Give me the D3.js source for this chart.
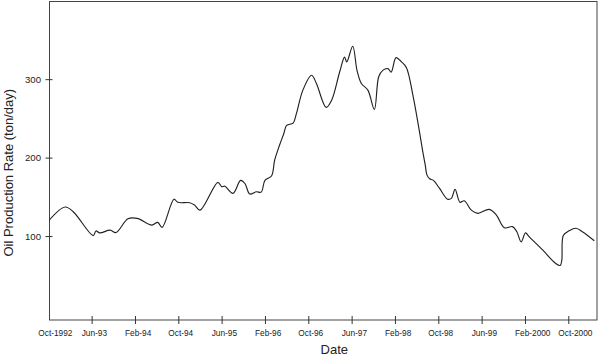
<!DOCTYPE html>
<html>
<head>
<meta charset="utf-8">
<script src="https://cdn.jsdelivr.net/npm/d3@7"></script>
<style>
  html, body { margin: 0; padding: 0; background: #fff; }
  svg { display: block; }
  text { font-family: Arial, "Liberation Sans", sans-serif; fill: #222; }
</style>
</head>
<body>
<svg id="chart" width="600" height="355"></svg>
<script>
// Months since Oct-1992 (fractional)
const months = [0, 3.1, 4.6, 8.3, 8.8, 9.5, 11.4, 12.5, 14.7, 16.4, 19.1, 20.2, 21.0,
  23.2, 23.9, 26.1, 27.0, 28.0, 31.3, 32.0, 32.6, 34.1, 35.5, 36.3, 37.2, 38.4, 39.3,
  40.0, 41.2, 41.8, 42.7, 43.5, 44.0, 45.2, 45.8, 47.0, 48.6, 49.5, 51.3, 52.3, 53.8,
  54.7, 55.1, 56.2, 57.0, 57.8, 59.0, 60.2, 61.0, 61.8, 62.7, 63.3, 64.2, 65.2, 66.1,
  67.3, 68.5, 69.1, 69.6, 69.9, 70.4, 71.1, 72.2, 73.7, 74.4, 75.1, 76.0, 76.8, 78.1,
  79.3, 81.4, 82.7, 84.2, 85.7, 86.5, 87.3, 88.1, 88.8, 91.3, 93.7, 94.5, 94.8, 95.1,
  96.2, 97.4, 98.6, 100.8];
// Oil production rate (ton/day)
const rate = [119, 137, 131, 100.5, 106.5, 104, 107.5, 104.5, 122, 122.5, 114, 117.5, 111,
  147, 143, 142.5, 139.5, 133, 168.5, 163, 163.5, 154.5, 171, 167, 153.5, 156.5, 156,
  171, 176.5, 197, 216, 231, 241, 244, 256, 286, 305, 294.5, 264, 273, 309.5,
  328, 322, 342, 311, 294.5, 286, 261.5, 303, 311.5, 313.5, 309, 327.5, 322, 315,
  280, 234, 209, 190, 178, 173, 171, 161, 147, 148, 159.5, 143, 145, 133,
  129, 134, 127, 110.5, 112, 105.5, 92.5, 104, 99, 82, 65, 62.5, 69, 101,
  107, 110, 105.5, 94];

const tickMonths = [0, 8, 16, 24, 32, 40, 48, 56, 64, 72, 80, 88, 96];
const tickLabels = ["Oct-1992", "Jun-93", "Feb-94", "Oct-94", "Jun-95", "Feb-96", "Oct-96",
  "Jun-97", "Feb-98", "Oct-98", "Jun-99", "Feb-2000", "Oct-2000"];
const yTicks = [100, 200, 300];

const svg = d3.select("#chart");
const L = 49.5, T = 1.5, R = 597, B = 320;

const x = d3.scaleLinear().domain([0.22, 101.3]).range([L, R]);
const y = d3.scaleLinear().domain([-7, 399]).range([B, T]);

svg.append("clipPath").attr("id", "clip")
  .append("rect").attr("x", L).attr("y", T).attr("width", R - L).attr("height", B - T);

// frame
svg.append("rect")
  .attr("x", L).attr("y", T).attr("width", R - L).attr("height", B - T)
  .attr("fill", "none").attr("stroke", "#444").attr("stroke-width", 1);

// x axis
const xAxis = d3.axisBottom(x)
  .tickValues(tickMonths)
  .tickSize(4)
  .tickSizeOuter(0)
  .tickFormat((d, i) => tickLabels[i]);
const gx = svg.append("g").attr("transform", `translate(0,${B})`).call(xAxis);
gx.select(".domain").remove();
gx.selectAll(".tick line").attr("y1", -4).attr("y2", 4).attr("stroke", "#333");
gx.selectAll(".tick").filter(d => d === 0).select("line").remove();
gx.selectAll(".tick text")
  .attr("text-anchor", "start")
  .attr("dx", -10.5)
  .attr("y", 0).attr("dy", 16)
  .style("font-size", "8.3px")
  .style("font-family", "Arial, 'Liberation Sans', sans-serif")
  .attr("fill", "#222");

// y axis
const yAxis = d3.axisLeft(y)
  .tickValues(yTicks)
  .tickSize(4)
  .tickSizeOuter(0);
const gy = svg.append("g").attr("transform", `translate(${L},0)`).call(yAxis);
gy.select(".domain").remove();
gy.selectAll(".tick line").attr("x1", -4).attr("x2", 3).attr("stroke", "#333");
gy.selectAll(".tick text")
  .attr("x", -8.5)
  .style("font-size", "9.6px")
  .style("font-family", "Arial, 'Liberation Sans', sans-serif")
  .attr("fill", "#222");

// line
const data = months.map((m, i) => ({ m, v: rate[i] }));
const line = d3.line()
  .x(d => x(d.m))
  .y(d => y(d.v))
  .curve(d3.curveCatmullRom.alpha(0.5));
svg.append("path")
  .datum(data)
  .attr("clip-path", "url(#clip)")
  .attr("fill", "none")
  .attr("stroke", "#222")
  .attr("stroke-width", 1.15)
  .attr("stroke-linejoin", "round")
  .attr("d", line);

// axis titles
svg.append("text")
  .attr("x", (L + R) / 2 + 11)
  .attr("y", 353.5)
  .attr("text-anchor", "middle")
  .style("font-size", "13px")
  .text("Date");

svg.append("text")
  .attr("transform", `translate(12.5,${(T + B) / 2 + 12}) rotate(-90)`)
  .attr("text-anchor", "middle")
  .style("font-size", "13px")
  .text("Oil Production Rate (ton/day)");
</script>
</body>
</html>
